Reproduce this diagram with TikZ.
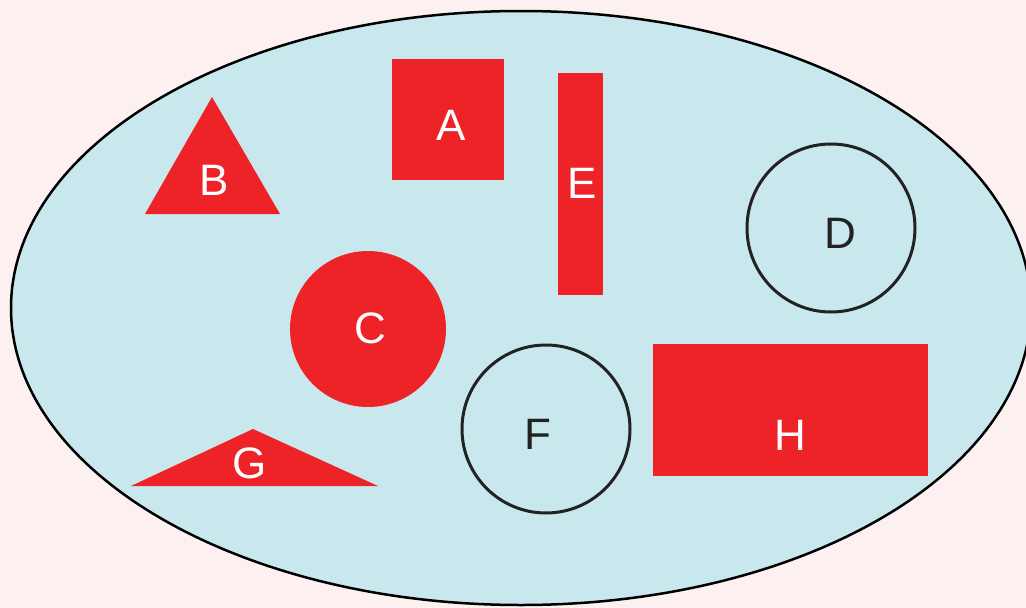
\documentclass[tikz,border=0pt]{standalone}
\usepackage{fontspec}
\setmainfont{Liberation Sans}
\definecolor{bgpink}{HTML}{FDF0F0}
\definecolor{lightblue}{HTML}{C9E8EE}
\definecolor{shapered}{HTML}{EE2327}
\definecolor{darkline}{HTML}{222222}
\begin{document}
\begin{tikzpicture}[x=1pt,y=-1pt,
  redfill/.style={fill=shapered,draw=none},
  ringshape/.style={draw=darkline,line width=3pt},
  lbl/.style={inner sep=0pt,text depth=0pt,font=\fontsize{44}{44}\selectfont},
  whitelbl/.style={lbl,text=white},
  darklbl/.style={lbl,text=darkline}]
\fill[bgpink] (0,0) rectangle (1026,608);
\useasboundingbox (0,0) rectangle (1026,608);
\begin{scope}
\clip (0,0) rectangle (1026,608);
\draw[fill=lightblue,draw=black,line width=2.5pt] (521,308) ellipse [x radius=510, y radius=297];
\end{scope}
% A
\fill[redfill] (392,59) rectangle (504,180);
\node[whitelbl] (A) at (451,125) {A};
% E
\fill[redfill] (558,73) rectangle (603,295);
\node[whitelbl] (E) at (582,183) {E};
% B
\fill[redfill] (212,97) -- (280,214) -- (145,214) -- cycle;
\node[whitelbl] (B) at (214,180) {B};
% C
\fill[redfill] (368,329) circle [radius=78];
\node[whitelbl] (C) at (370,328) {C};
% D
\draw[ringshape] (831,228) circle [radius=84];
\node[darklbl] (D) at (840,233) {D};
% F
\draw[ringshape] (546,429) circle [radius=84];
\node[darklbl] (F) at (538,434) {F};
% G
\fill[redfill] (253,429) -- (378,486) -- (131,486) -- cycle;
\node[whitelbl] (G) at (250,463) {G};
% H
\fill[redfill] (653,344) rectangle (928,476);
\node[whitelbl] (H) at (790,435) {H};
\end{tikzpicture}
\end{document}
